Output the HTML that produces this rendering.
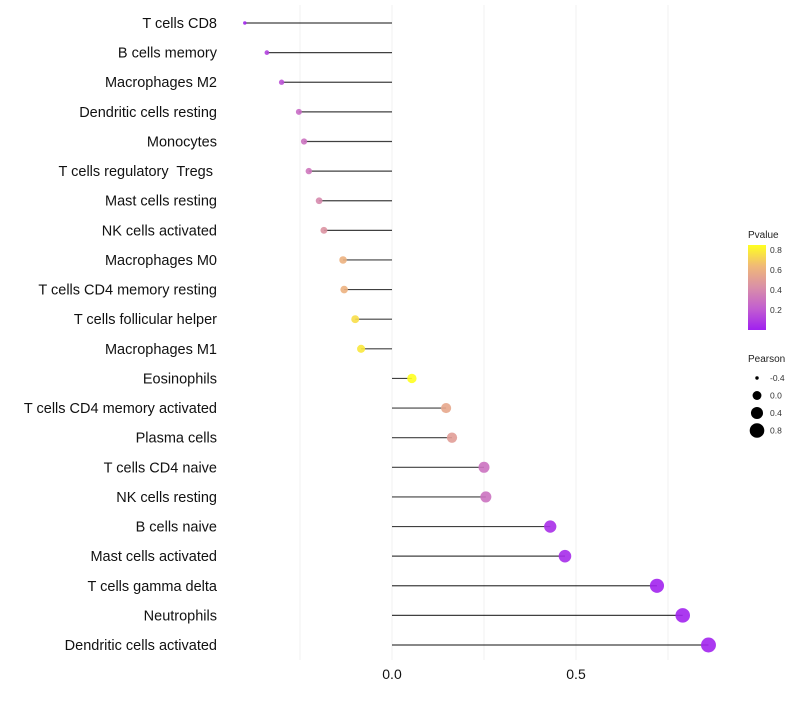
<!DOCTYPE html>
<html><head><meta charset="utf-8"><style>
body{margin:0;background:#fff;font-family:"Liberation Sans",sans-serif}
svg text{font-family:"Liberation Sans",sans-serif;white-space:pre}
</style></head><body>
<svg id="chart" width="800" height="700">
<defs><linearGradient id="pg" x1="0" y1="1" x2="0" y2="0">
<stop offset="0" stop-color="#a020f0"/><stop offset="0.25" stop-color="#c25ed0"/>
<stop offset="0.5" stop-color="#d98fa8"/><stop offset="0.75" stop-color="#f0b878"/><stop offset="1" stop-color="#ffff20"/>
</linearGradient></defs>
<g id="grid"></g><g id="marks"></g><g id="labels"></g>
<g id="legend"></g>
</svg>
<script>
const categories=["T cells CD8","B cells memory","Macrophages M2","Dendritic cells resting","Monocytes","T cells regulatory  Tregs ","Mast cells resting","NK cells activated","Macrophages M0","T cells CD4 memory resting","T cells follicular helper","Macrophages M1","Eosinophils","T cells CD4 memory activated","Plasma cells","T cells CD4 naive","NK cells resting","B cells naive","Mast cells activated","T cells gamma delta","Neutrophils","Dendritic cells activated"];
const pearson=[-0.40,-0.34,-0.30,-0.253,-0.239,-0.226,-0.198,-0.185,-0.133,-0.130,-0.10,-0.084,0.054,0.147,0.163,0.25,0.255,0.43,0.47,0.72,0.79,0.86];
const pvalue=[0.02,0.12,0.17,0.27,0.3,0.32,0.4,0.45,0.6,0.6,0.75,0.78,0.85,0.55,0.5,0.3,0.3,0.05,0.04,0.01,0.01,0.01];
const xTicks=[0,0.5];
const xGrid=[-0.25,0,0.25,0.5,0.75];
const pTicks=[0.2,0.4,0.6,0.8];
const sizeTicks=[-0.4,0,0.4,0.8];
const NS="http://www.w3.org/2000/svg";
const X=v=>392+v*368;
const Y=i=>23+i*29.62;
const R=v=>Math.sqrt(3+(v+0.4)*42);
const cols=[[160,32,240],[194,94,208],[217,143,168],[240,184,120],[255,255,32]];
function pcol(p){let t=Math.max(0,Math.min(1,p/0.85))*4;let i=Math.min(3,Math.floor(t)),f=t-i;let a=cols[i],b=cols[i+1];return `rgb(${a.map((c,k)=>Math.round(c+(b[k]-c)*f)).join(',')})`;}
function mk(tag,at,parent){const e=document.createElementNS(NS,tag);for(const k in at)e.setAttribute(k,at[k]);document.getElementById(parent).appendChild(e);return e;}
xGrid.forEach(v=>{const l=mk('line',{x1:X(v),x2:X(v),y1:5,y2:660,stroke:'#f0f0f0','stroke-width':1},'grid');

});
xTicks.forEach(v=>{const t=mk('text',{x:X(v),y:679,'text-anchor':'middle','font-size':14,fill:'#111'},'labels');t.textContent=v.toFixed(1);

});
categories.forEach((c,i)=>{
const t=mk('text',{x:217,y:Y(i)+5,'text-anchor':'end','font-size':14.5,fill:'#111'},'labels');t.textContent=c;


const l=mk('line',{x1:X(0),x2:X(pearson[i]),y1:Y(i),y2:Y(i),stroke:'#000','stroke-opacity':0.75,'stroke-width':1.2},'marks');


const p=mk('circle',{cx:X(pearson[i]),cy:Y(i),r:R(pearson[i]),fill:pcol(pvalue[i]),'fill-opacity':0.9},'marks');


});
let t=mk('text',{x:748,y:238,'font-size':10,fill:'#222'},'legend');t.textContent='Pvalue';


const bar=mk('rect',{x:748,y:245,width:18,height:85,fill:'url(#pg)'},'legend');


pTicks.forEach(v=>{const y=330-v*100;const tl=mk('text',{x:770,y:y+3,'font-size':8.5,fill:'#333'},'legend');tl.textContent=v.toFixed(1);

});
t=mk('text',{x:748,y:362,'font-size':10,fill:'#222'},'legend');t.textContent='Pearson';


sizeTicks.forEach((v,i)=>{const y=378+i*17.5;const c=mk('circle',{cx:757,cy:y,r:R(v),fill:'#000'},'legend');


const tl=mk('text',{x:770,y:y+3,'font-size':8.5,fill:'#333'},'legend');tl.textContent=v.toFixed(1);

});
</script>
</body></html>
